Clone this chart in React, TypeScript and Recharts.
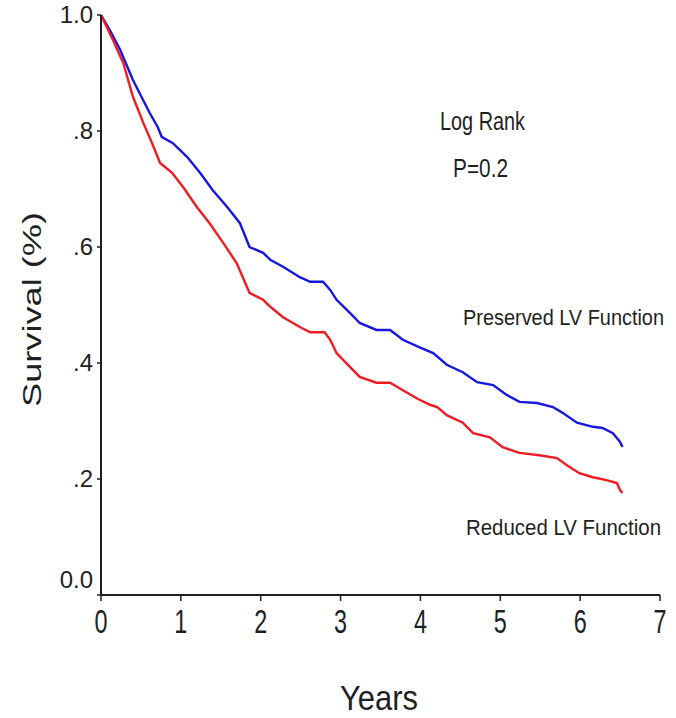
import { CartesianGrid, Line, LineChart, XAxis, YAxis } from "recharts";

// Kaplan-Meier survival
const preservedYears = [
  0, 0.11, 0.24, 0.4, 0.61, 0.71, 0.76, 0.9, 1.08, 1.24, 1.4, 1.58, 1.74, 1.86, 2.03, 2.12, 2.28, 2.49,
  2.62, 2.78, 2.87, 2.95, 3.12, 3.24, 3.45, 3.62, 3.78, 3.99, 4.16, 4.33, 4.53, 4.71, 4.91, 5.08, 5.24,
  5.46, 5.66, 5.78, 5.96, 6.16, 6.28, 6.41, 6.5, 6.53,
];
const preservedSurvival = [
  1.0, 0.974, 0.94, 0.888, 0.831, 0.807, 0.79, 0.779, 0.755, 0.728, 0.698, 0.669, 0.641, 0.6, 0.59, 0.578,
  0.566, 0.548, 0.54, 0.54, 0.526, 0.509, 0.486, 0.469, 0.457, 0.457, 0.44, 0.427, 0.417, 0.397, 0.384,
  0.367, 0.362, 0.345, 0.333, 0.331, 0.324, 0.314, 0.297, 0.29, 0.288, 0.279, 0.264, 0.255,
];

const reducedYears = [
  0, 0.15, 0.28, 0.4, 0.53, 0.64, 0.74, 0.89, 1.03, 1.2, 1.36, 1.53, 1.7, 1.86, 2.03, 2.12, 2.28, 2.49,
  2.62, 2.8, 2.87, 2.95, 3.12, 3.24, 3.45, 3.62, 3.78, 3.97, 4.12, 4.21, 4.33, 4.53, 4.66, 4.87, 5.03,
  5.24, 5.49, 5.71, 5.83, 5.99, 6.16, 6.33, 6.46, 6.5, 6.53,
];
const reducedSurvival = [
  1.0, 0.957, 0.917, 0.859, 0.814, 0.779, 0.745, 0.728, 0.703, 0.669, 0.641, 0.607, 0.572, 0.521, 0.509,
  0.497, 0.479, 0.462, 0.453, 0.453, 0.44, 0.417, 0.393, 0.376, 0.366, 0.366, 0.353, 0.338, 0.328, 0.324,
  0.31, 0.297, 0.279, 0.272, 0.255, 0.245, 0.241, 0.236, 0.224, 0.21, 0.203, 0.198, 0.193, 0.181, 0.176,
];

const yearTicks = [0, 1, 2, 3, 4, 5, 6, 7];
const survivalTicks = [0, 0.2, 0.4, 0.6, 0.8, 1.0];
const survivalTickLabels = ["0.0", ".2", ".4", ".6", ".8", "1.0"];

const FONT = "'Liberation Sans', Arial, Helvetica, sans-serif";
const INK = "#1f1f1f";

const preserved = preservedYears.map((t, i) => ({ t, s: preservedSurvival[i] }));
const reduced = reducedYears.map((t, i) => ({ t, s: reducedSurvival[i] }));

function YearTick({ x, y, payload }: any) {
  return (
    <text
      x={x}
      y={y + 30}
      textAnchor="middle"
      fontFamily={FONT}
      fontSize={34}
      fill={INK}
      textLength={13}
      lengthAdjust="spacingAndGlyphs"
    >
      {payload.value}
    </text>
  );
}

function SurvivalTick({ x, y, payload }: any) {
  const idx = survivalTicks.indexOf(payload.value);
  const label = idx >= 0 ? survivalTickLabels[idx] : String(payload.value);
  // the zero label sits a little above the axis in the original
  const shift = payload.value === 0 ? -15 : 0;
  return (
    <text x={x - 2} y={y + 8 + shift} textAnchor="end" fontFamily={FONT} fontSize={24} fill={INK}>
      {label}
    </text>
  );
}

export default function App() {
  return (
    <div style={{ position: "absolute", left: 0, top: 0, width: 676, height: 718, background: "#fff" }}>
      <LineChart width={676} height={718} margin={{ top: 15, right: 16, bottom: 0, left: 0 }}>
        <CartesianGrid stroke="none" />
        <XAxis
          type="number"
          dataKey="t"
          domain={[0, 7]}
          ticks={yearTicks}
          interval={0}
          height={123}
          axisLine={{ stroke: INK, strokeWidth: 2 }}
          tickLine={{ stroke: INK, strokeWidth: 1.5 }}
          tickSize={6}
          tick={<YearTick />}
          allowDuplicatedCategory={false}
        />
        <YAxis
          type="number"
          dataKey="s"
          domain={[0, 1]}
          ticks={survivalTicks}
          interval={0}
          width={101}
          axisLine={{ stroke: INK, strokeWidth: 2 }}
          tickLine={{ stroke: INK, strokeWidth: 1.5 }}
          tickSize={4}
          tick={<SurvivalTick />}
        />
        <Line
          data={preserved}
          dataKey="s"
          type="linear"
          stroke="#1717e0"
          strokeWidth={2.4}
          dot={false}
          activeDot={false}
          isAnimationActive={false}
        />
        <Line
          data={reduced}
          dataKey="s"
          type="linear"
          stroke="#f01c24"
          strokeWidth={2.4}
          dot={false}
          activeDot={false}
          isAnimationActive={false}
        />
      </LineChart>

      <svg
        width={676}
        height={718}
        style={{ position: "absolute", left: 0, top: 0, pointerEvents: "none" }}
      >
        <g fontFamily={FONT} fill={INK}>
          <text x={440} y={130} fontSize={25} textLength={85} lengthAdjust="spacingAndGlyphs">
            Log Rank
          </text>
          <text x={453} y={177} fontSize={25} textLength={55} lengthAdjust="spacingAndGlyphs">
            P=0.2
          </text>
          <text transform="translate(463,325) scale(1,1.14)" fontSize={20} textLength={201} lengthAdjust="spacingAndGlyphs">
            Preserved LV Function
          </text>
          <text transform="translate(466,535) scale(1,1.08)" fontSize={20} textLength={195} lengthAdjust="spacingAndGlyphs">
            Reduced LV Function
          </text>
          <text x={340} y={710} fontSize={35} textLength={78} lengthAdjust="spacingAndGlyphs">
            Years
          </text>
          <text
            transform="translate(41,407) rotate(-90)"
            fontSize={26}
            textLength={195}
            lengthAdjust="spacingAndGlyphs"
          >
            Survival (%)
          </text>
        </g>
      </svg>
    </div>
  );
}
